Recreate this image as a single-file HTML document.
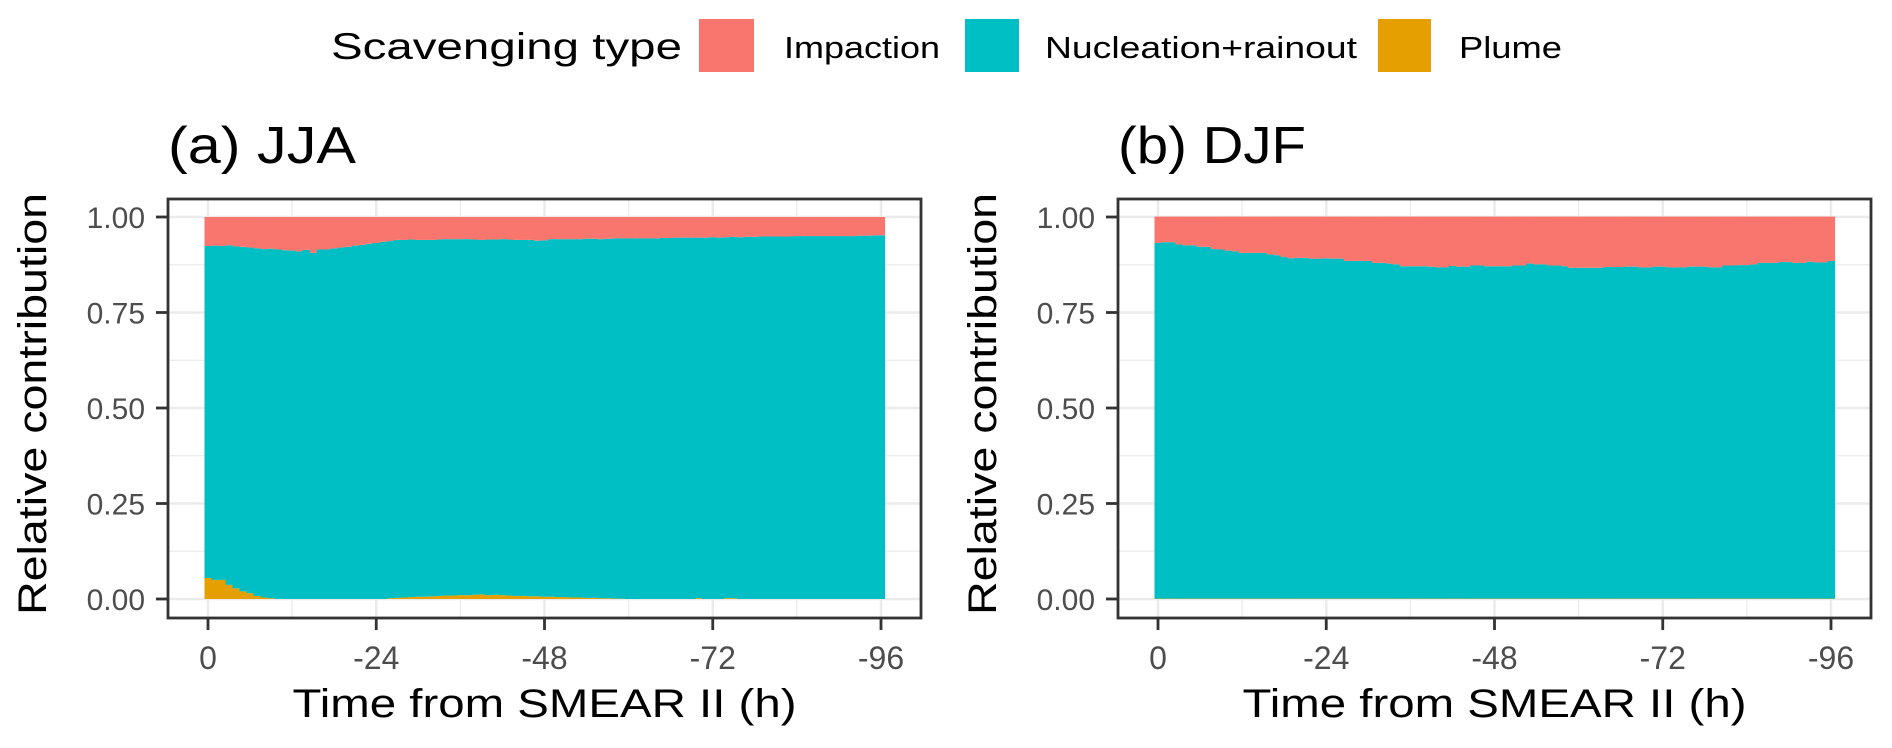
<!DOCTYPE html>
<html><head><meta charset="utf-8"><style>
html,body{margin:0;padding:0;background:#fff}
svg{display:block;font-family:"Liberation Sans",Arial,sans-serif}
</style></head><body>
<svg id="c" width="1892" height="748" viewBox="0 0 1892 748" xmlns="http://www.w3.org/2000/svg">
<g>
<text x="331" y="59" font-size="37" textLength="351" lengthAdjust="spacingAndGlyphs">Scavenging type</text>
<rect x="699" y="19" width="55" height="53" fill="#F8766D"/>
<text x="784" y="58" font-size="31" textLength="156" lengthAdjust="spacingAndGlyphs">Impaction</text>
<rect x="965" y="19" width="54" height="53" fill="#00BFC4"/>
<text x="1045" y="58" font-size="31" textLength="312" lengthAdjust="spacingAndGlyphs">Nucleation+rainout</text>
<rect x="1378" y="19" width="53" height="53" fill="#E69F00"/>
<text x="1459" y="58" font-size="31" textLength="103" lengthAdjust="spacingAndGlyphs">Plume</text>
</g>
</svg>
<script>
const hours = Array.from({length:97},(_,i)=>i);
const xTicks = [0,24,48,72,96];
const xTickLabels = ["0","-24","-48","-72","-96"];
const yTicks = [0,0.25,0.5,0.75,1];
const yTickLabels = ["0.00","0.25","0.50","0.75","1.00"];

const jjaPlume = [.055,.050,.050,.037,.028,.020,.015,.008,.004,.002,0,0,0,0,0,0,0,0,0,0,0,0,0,0,0,0,.002,.003,.004,.005,.006,.006,.007,.008,.009,.009,.010,.010,.011,.012,.010,.011,.010,.009,.008,.008,.007,.007,.006,.006,.005,.005,.004,.004,.003,.003,.002,.002,.001,.001,0,0,0,0,0,0,0,0,0,0,.002,0,0,0,.002,.002,0,0,0,0,0,0,0,0,0,0,0,0,0,0,0,0,0,0,0,0,0];
const jjaNucleation = [.869,.875,.874,.889,.895,.902,.905,.910,.912,.915,.915,.913,.912,.910,.914,.906,.915,.915,.918,.920,.922,.925,.927,.930,.932,.935,.935,.937,.936,.936,.934,.934,.933,.933,.933,.933,.932,.932,.930,.928,.931,.930,.932,.932,.932,.932,.933,.931,.933,.936,.937,.937,.938,.938,.940,.940,.940,.941,.943,.943,.944,.944,.944,.944,.944,.945,.945,.946,.946,.946,.944,.946,.947,.946,.945,.946,.947,.948,.948,.949,.949,.949,.949,.949,.950,.950,.950,.950,.950,.950,.950,.950,.950,.951,.951,.952,.952];
const jjaImpaction = [.076,.075,.076,.074,.077,.078,.080,.082,.084,.083,.085,.087,.088,.090,.086,.094,.085,.085,.082,.080,.078,.075,.073,.070,.068,.065,.063,.060,.060,.059,.060,.060,.060,.059,.058,.058,.058,.058,.059,.060,.059,.059,.058,.059,.060,.060,.060,.062,.061,.058,.058,.058,.058,.058,.057,.057,.058,.057,.056,.056,.056,.056,.056,.056,.056,.055,.055,.054,.054,.054,.054,.054,.053,.054,.053,.052,.053,.052,.052,.051,.051,.051,.051,.051,.050,.050,.050,.050,.050,.050,.050,.050,.050,.049,.049,.048,.048];

const djfPlume = hours.map(()=>0.001);
const djfNucleation = [.931,.933,.933,.927,.925,.925,.921,.921,.915,.914,.911,.909,.905,.905,.905,.905,.901,.899,.894,.891,.892,.892,.890,.890,.891,.890,.890,.884,.884,.884,.884,.879,.879,.877,.875,.870,.870,.870,.870,.869,.867,.867,.871,.869,.869,.872,.872,.870,.870,.870,.870,.872,.872,.877,.875,.875,.872,.872,.870,.866,.866,.866,.866,.866,.868,.868,.868,.869,.869,.867,.867,.869,.869,.867,.867,.867,.869,.869,.869,.867,.867,.872,.872,.873,.873,.875,.879,.879,.879,.881,.881,.879,.879,.882,.880,.880,.884];
const djfImpaction = [.069,.067,.067,.073,.075,.075,.079,.079,.085,.086,.089,.091,.095,.095,.095,.095,.099,.101,.106,.109,.108,.108,.110,.110,.109,.110,.110,.116,.116,.116,.116,.121,.121,.123,.125,.130,.130,.130,.130,.131,.133,.133,.129,.131,.131,.128,.128,.130,.130,.130,.130,.128,.128,.123,.125,.125,.128,.128,.130,.134,.134,.134,.134,.134,.132,.132,.132,.131,.131,.133,.133,.131,.131,.133,.133,.133,.131,.131,.131,.133,.133,.128,.128,.127,.127,.125,.121,.121,.121,.119,.119,.121,.121,.118,.120,.120,.116];

const NS="http://www.w3.org/2000/svg";
const svg=document.getElementById('c');
function mk(tag,attrs,parent){const e=document.createElementNS(NS,tag);for(const k in attrs)e.setAttribute(k,attrs[k]);(parent||svg).appendChild(e);return e;}

function panel(off,title,plume,nuc,imp,key){
  const fx0=168+off, fx1=921+off, fy0=199, fy1=618;
  const x=h=>208+off+h*(673/96);
  const y=v=>599-v*382;
  const bw=673/96;
  const g=mk('g',{});
  
  
  mk('rect',{x:fx0,y:fy0,width:fx1-fx0,height:fy1-fy0,fill:'#fff'},g);
  for(let v=0.125;v<1;v+=0.25){const l=mk('line',{x1:fx0,x2:fx1,y1:y(v),y2:y(v),stroke:'#ebebeb','stroke-width':1.2},g);}
  for(let h=12;h<=96;h+=24){const l=mk('line',{y1:fy0,y2:fy1,x1:x(h),x2:x(h),stroke:'#ebebeb','stroke-width':1.2},g);}
  yTicks.forEach(v=>{const l=mk('line',{x1:fx0,x2:fx1,y1:y(v),y2:y(v),stroke:'#ebebeb','stroke-width':2.5},g);});
  xTicks.forEach(h=>{const l=mk('line',{y1:fy0,y2:fy1,x1:x(h),x2:x(h),stroke:'#ebebeb','stroke-width':2.5},g);});
  hours.forEach(h=>{
    const x0=x(h)-bw/2;
    let base=0;
    [[plume,'#E69F00','plume'],[nuc,'#00BFC4','nucleation'],[imp,'#F8766D','impaction']].forEach(([arr,col,nm])=>{
      const v=arr[h];
      const r=mk('rect',{x:x0,y:y(base+v),width:bw+0.6,height:Math.max(0,v*382),fill:col},g);
      
      
      base+=v;
    });
  });
  const fr=mk('rect',{x:fx0,y:fy0,width:fx1-fx0,height:fy1-fy0,fill:'none',stroke:'#333','stroke-width':2.8},g);
  
  
  yTicks.forEach((v,i)=>{
    mk('line',{x1:156+off,x2:fx0,y1:y(v),y2:y(v),stroke:'#333','stroke-width':2.8},g);
    const t=mk('text',{x:145+off,y:y(v)+11,'text-anchor':'end','font-size':30,fill:'#4d4d4d'},g);
    
    
    t.textContent=yTickLabels[i];
  });
  xTicks.forEach((h,i)=>{
    mk('line',{x1:x(h),x2:x(h),y1:fy1,y2:630,stroke:'#333','stroke-width':2.8},g);
    const t=mk('text',{x:x(h),y:669,'text-anchor':'middle','font-size':32,fill:'#4d4d4d'},g);
    
    
    t.textContent=xTickLabels[i];
  });
  const xt=mk('text',{x:(fx0+fx1)/2,y:717,'text-anchor':'middle','font-size':40,fill:'#000',textLength:504,lengthAdjust:'spacingAndGlyphs'},g);
  
  
  xt.textContent='Time from SMEAR II (h)';
  const yt=mk('text',{x:0,y:0,'text-anchor':'middle','font-size':40,fill:'#000',textLength:422,lengthAdjust:'spacingAndGlyphs',transform:`translate(${46+off},404) rotate(-90)`},g);
  
  
  yt.textContent='Relative contribution';
  const tt=mk('text',{x:168+off,y:163,'font-size':52,fill:'#000',textLength:188,lengthAdjust:'spacingAndGlyphs'},g);
  
  
  tt.textContent=title;
}
panel(0,'(a) JJA',jjaPlume,jjaNucleation,jjaImpaction,'jja');
panel(950,'(b) DJF',djfPlume,djfNucleation,djfImpaction,'djf');
</script>
</body></html>
